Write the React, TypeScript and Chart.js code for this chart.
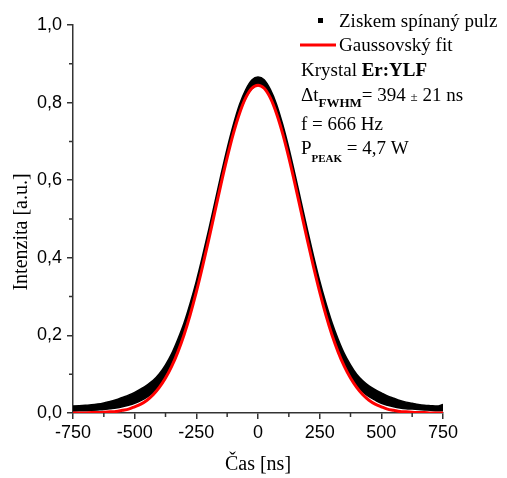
import React, { useEffect, useRef } from "react";
import { Chart, registerables } from "chart.js";

Chart.register(...registerables);

// time axis (ns), step 25 ns
const times: number[] = [
  -750, -725, -700, -675, -650, -625, -600, -575, -550, -525, -500, -475, -450, -425, -400, -375,
  -350, -325, -300, -275, -250, -225, -200, -175, -150, -125, -100, -75, -50, -25,
  0, 25, 50, 75, 100, 125, 150, 175, 200, 225, 250, 275, 300, 325, 350, 375, 400, 425, 450,
  475, 500, 525, 550, 575, 600, 625, 650, 675, 700, 725, 750,
];

// measured pulse: upper edge of the noisy trace
const pulseUpper: number[] = [
  0.018, 0.019, 0.020, 0.021, 0.023, 0.026, 0.030, 0.034, 0.040, 0.046, 0.053, 0.062, 0.072, 0.084,
  0.101, 0.124, 0.153, 0.190, 0.232, 0.283, 0.340, 0.404, 0.472, 0.543, 0.614, 0.682, 0.743, 0.795,
  0.833, 0.858,
  0.866, 0.859, 0.834, 0.796, 0.744, 0.683, 0.615, 0.544, 0.473, 0.405, 0.341, 0.284, 0.233, 0.190,
  0.153, 0.124, 0.100, 0.083, 0.070, 0.060, 0.052, 0.044, 0.038, 0.032, 0.028, 0.025, 0.022, 0.020,
  0.019, 0.018, 0.022,
];

// measured pulse: lower edge of the noisy trace
const pulseLower: number[] = [
  0.005, 0.006, 0.006, 0.007, 0.008, 0.009, 0.011, 0.013, 0.016, 0.020, 0.025, 0.032, 0.041, 0.053,
  0.071, 0.095, 0.126, 0.163, 0.208, 0.260, 0.318, 0.382, 0.450, 0.521, 0.592, 0.660, 0.721, 0.773,
  0.811, 0.836,
  0.844, 0.837, 0.812, 0.774, 0.722, 0.661, 0.593, 0.522, 0.451, 0.383, 0.319, 0.261, 0.209, 0.164,
  0.127, 0.096, 0.072, 0.054, 0.042, 0.033, 0.025, 0.020, 0.016, 0.013, 0.011, 0.010, 0.009, 0.008,
  0.007, 0.006, 0.006,
];

// Gaussian fit
const gaussFit: number[] = [
  0.000, 0.000, 0.000, 0.001, 0.001, 0.002, 0.003, 0.004, 0.007, 0.010, 0.016, 0.023, 0.033, 0.047,
  0.066, 0.090, 0.120, 0.157, 0.201, 0.253, 0.312, 0.377, 0.446, 0.518, 0.590, 0.658, 0.720, 0.772,
  0.812, 0.837,
  0.845, 0.837, 0.812, 0.772, 0.720, 0.658, 0.590, 0.518, 0.446, 0.377, 0.312, 0.253, 0.201, 0.157,
  0.120, 0.090, 0.066, 0.047, 0.033, 0.023, 0.016, 0.010, 0.007, 0.004, 0.003, 0.002, 0.001, 0.001,
  0.000, 0.000, 0.000,
];

const xMajorTicks: number[] = [-750, -500, -250, 0, 250, 500, 750];
const xMinorTicks: number[] = [-625, -375, -125, 125, 375, 625];
const yMajorTicks: number[] = [0, 0.2, 0.4, 0.6, 0.8, 1.0];
const yMinorTicks: number[] = [0.1, 0.3, 0.5, 0.7, 0.9];

const SERIF = "'Liberation Serif', 'Times New Roman', serif";
const SANS = "'Liberation Sans', Arial, sans-serif";
const AXIS = "#333333";

type Run = { text: string; font: string; dy?: number };

function drawRuns(ctx: CanvasRenderingContext2D, x: number, y: number, runs: Run[]) {
  let cx = x;
  for (const r of runs) {
    ctx.font = r.font;
    ctx.fillText(r.text, cx, y + (r.dy || 0));
    cx += ctx.measureText(r.text).width;
  }
}

const decorPlugin = {
  id: "decor",
  afterDraw(chart: any) {
    const ctx: CanvasRenderingContext2D = chart.ctx;
    const xs = chart.scales.x;
    const ys = chart.scales.y;
    const area = chart.chartArea;
    ctx.save();
    // minor ticks
    ctx.strokeStyle = AXIS;
    ctx.lineWidth = 1.5;
    ctx.beginPath();
    for (const v of xMinorTicks) {
      const px = xs.getPixelForValue(v);
      ctx.moveTo(px, area.bottom);
      ctx.lineTo(px, area.bottom + 4);
    }
    for (const v of yMinorTicks) {
      const py = ys.getPixelForValue(v);
      ctx.moveTo(area.left - 4, py);
      ctx.lineTo(area.left, py);
    }
    ctx.stroke();

    // axis titles
    ctx.fillStyle = "#000";
    ctx.font = `20px ${SERIF}`;
    ctx.textAlign = "center";
    ctx.textBaseline = "alphabetic";
    ctx.fillText("Čas [ns]", 258, 470);
    ctx.save();
    ctx.translate(27, 232);
    ctx.rotate(-Math.PI / 2);
    ctx.fillText("Intenzita [a.u.]", 0, 0);
    ctx.restore();

    // legend
    ctx.textAlign = "left";
    ctx.fillStyle = "#000";
    ctx.fillRect(318, 18, 5, 5);
    ctx.strokeStyle = "#ff0000";
    ctx.lineWidth = 3;
    ctx.beginPath();
    ctx.moveTo(300, 45);
    ctx.lineTo(336, 45);
    ctx.stroke();

    const n = `19px ${SERIF}`;
    const b = `bold 19px ${SERIF}`;
    drawRuns(ctx, 339, 27, [{ text: "Ziskem spínaný pulz", font: n }]);
    drawRuns(ctx, 339, 51, [{ text: "Gaussovský fit", font: n }]);
    drawRuns(ctx, 301, 76, [
      { text: "Krystal ", font: n },
      { text: "Er:YLF", font: b },
    ]);
    drawRuns(ctx, 301, 101, [
      { text: "Δt", font: n },
      { text: "FWHM", font: `bold 13px ${SERIF}`, dy: 6 },
      { text: "= 394 ", font: n },
      { text: "±", font: `13px ${SERIF}` },
      { text: " 21 ns", font: n },
    ]);
    drawRuns(ctx, 301, 130, [{ text: "f = 666 Hz", font: n }]);
    drawRuns(ctx, 301, 154, [
      { text: "P", font: n },
      { text: "PEAK", font: `bold 11px ${SERIF}`, dy: 8 },
      { text: " = 4,7 W", font: n },
    ]);
    ctx.restore();
  },
};

export default function App() {
  const canvasRef = useRef<HTMLCanvasElement | null>(null);

  useEffect(() => {
    document.body.style.margin = "0";
    const canvas = canvasRef.current;
    if (!canvas) return;
    const toPts = (arr: number[]) => times.map((t, i) => ({ x: t, y: arr[i] }));
    const chart = new Chart(canvas, {
      type: "line",
      data: {
        datasets: [
          {
            label: "Gaussovský fit",
            data: toPts(gaussFit),
            borderColor: "#ff0000",
            borderWidth: 3,
            pointRadius: 0,
            fill: false,
            cubicInterpolationMode: "monotone",
            order: 0,
          },
          {
            label: "Ziskem spínaný pulz",
            data: toPts(pulseUpper),
            borderColor: "#000000",
            backgroundColor: "#000000",
            borderWidth: 1.5,
            pointRadius: 0,
            fill: "+1",
            cubicInterpolationMode: "monotone",
            order: 1,
          },
          {
            label: "lower",
            data: toPts(pulseLower),
            borderColor: "#000000",
            borderWidth: 1.5,
            pointRadius: 0,
            fill: false,
            cubicInterpolationMode: "monotone",
            order: 2,
          },
        ],
      },
      options: {
        animation: false,
        responsive: false,
        maintainAspectRatio: false,
        layout: { padding: { top: 25, right: 64, left: 0, bottom: 0 } },
        plugins: {
          legend: { display: false },
          tooltip: { enabled: false },
        },
        scales: {
          x: {
            type: "linear",
            min: -750,
            max: 750,
            afterFit: (s: any) => {
              s.height = 65;
            },
            afterBuildTicks: (s: any) => {
              s.ticks = xMajorTicks.map((v) => ({ value: v }));
            },
            ticks: {
              font: { family: SANS, size: 18 },
              color: "#000",
              padding: 3,
              maxRotation: 0,
              autoSkip: false,
              callback: (v: any) => String(v),
            },
            grid: {
              drawOnChartArea: false,
              drawTicks: true,
              tickLength: 6,
              color: AXIS,
              lineWidth: 1.5,
            },
            border: { display: true, color: AXIS, width: 1.5 },
          },
          y: {
            type: "linear",
            min: 0,
            max: 1,
            afterFit: (s: any) => {
              s.width = 73;
            },
            afterBuildTicks: (s: any) => {
              s.ticks = yMajorTicks.map((v) => ({ value: v }));
            },
            ticks: {
              font: { family: SANS, size: 18 },
              color: "#000",
              padding: 5,
              autoSkip: false,
              callback: (v: any) => Number(v).toFixed(1).replace(".", ","),
            },
            grid: {
              drawOnChartArea: false,
              drawTicks: true,
              tickLength: 6,
              color: AXIS,
              lineWidth: 1.5,
            },
            border: { display: true, color: AXIS, width: 1.5 },
          },
        },
      },
      plugins: [decorPlugin],
    } as any);
    return () => chart.destroy();
  }, []);

  return (
    <div style={{ width: 507, height: 478 }}>
      <canvas ref={canvasRef} width={507} height={478} style={{ display: "block" }} />
    </div>
  );
}
